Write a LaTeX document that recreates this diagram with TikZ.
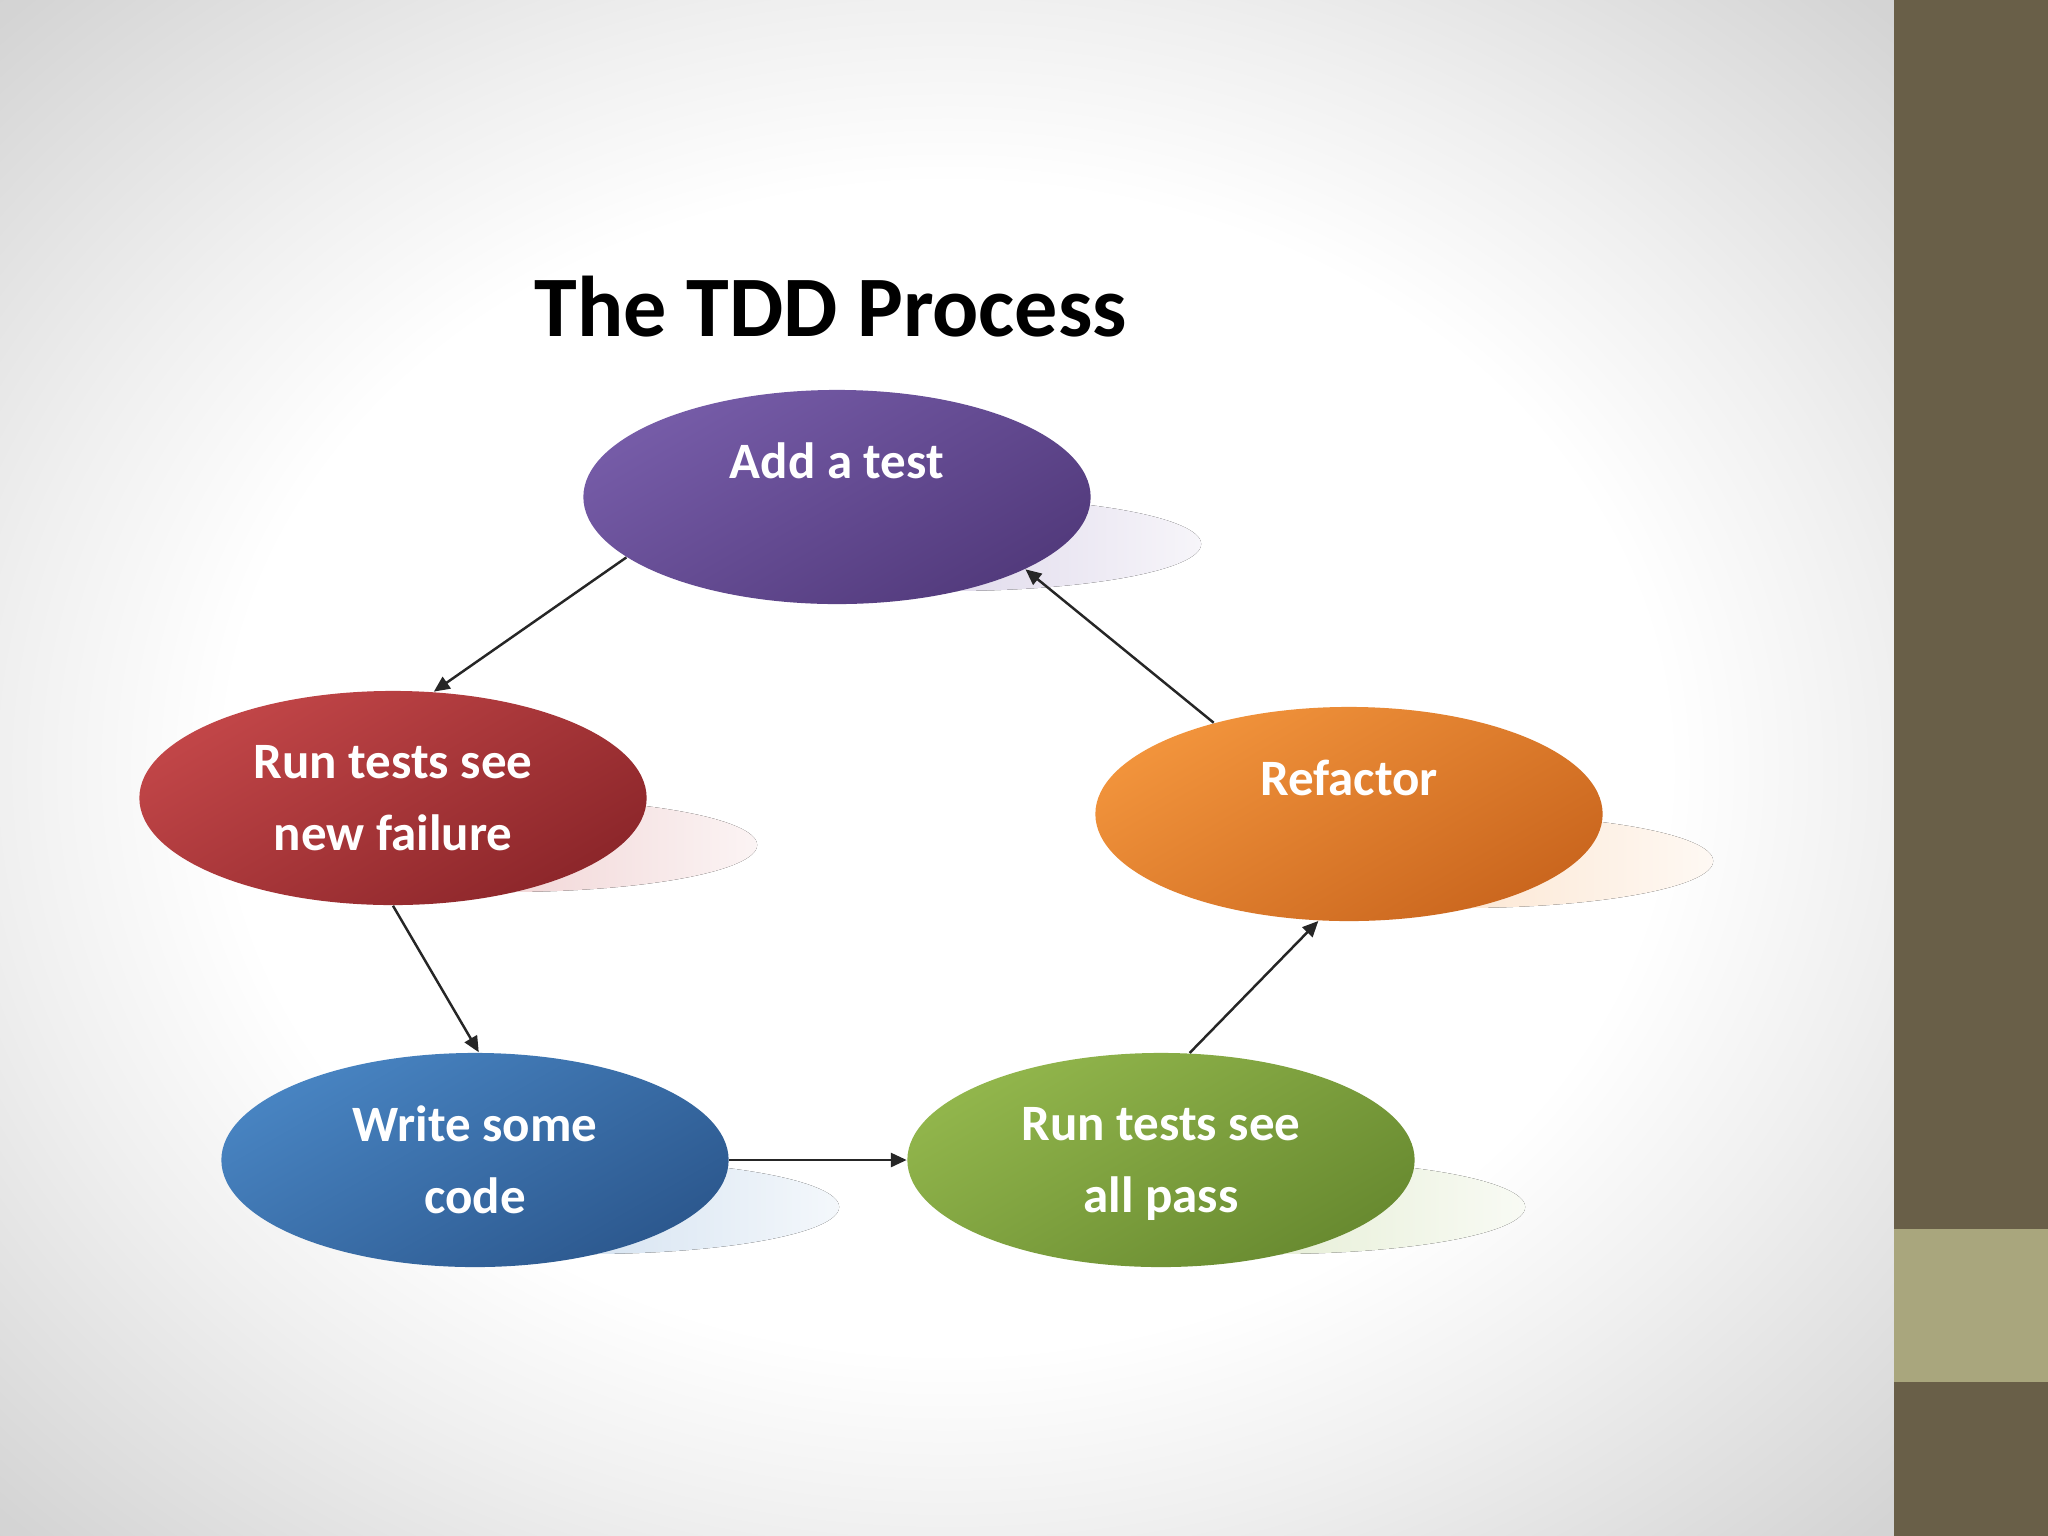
\documentclass[tikz,border=0pt]{standalone}
\usepackage{fontspec}
\setmainfont{Carlito}
\usepackage{tikz}
\usetikzlibrary{arrows.meta,positioning,calc,shapes.geometric}
\pgfdeclarelayer{background}
\pgfsetlayers{background,main}
\definecolor{addtop}{RGB}{118,92,168}
\definecolor{addbot}{RGB}{82,58,124}
\definecolor{failtop}{RGB}{194,70,72}
\definecolor{failbot}{RGB}{140,38,42}
\definecolor{codetop}{RGB}{72,132,194}
\definecolor{codebot}{RGB}{44,88,142}
\definecolor{passtop}{RGB}{146,182,76}
\definecolor{passbot}{RGB}{104,138,48}
\definecolor{reftop}{RGB}{242,148,60}
\definecolor{refbot}{RGB}{202,102,30}
\definecolor{bandbrown}{RGB}{105,95,72}
\definecolor{bandkhaki}{RGB}{169,166,125}
\pgfdeclareradialshading{vignette}{\pgfpoint{0bp}{0bp}}{color(0bp)=(white); color(19bp)=(white); color(25bp)=(black!6); color(35bp)=(black!17); color(50bp)=(black!20)}
\tikzset{
  stage/.style={ellipse, inner sep=0pt, minimum width=5.07cm, minimum height=2.14cm, align=center, text=white, font=\fontsize{14.5}{20.5}\selectfont\bfseries},
  title/.style={font=\fontsize{24.5}{29}\selectfont\bfseries, anchor=base},
  line/.style={-{Triangle[length=4.5pt,width=4pt]}, line width=0.7pt, draw=black!85}
}
\begin{document}
\begin{tikzpicture}[x=0.01cm, y=-0.01cm]
  \useasboundingbox (0,0) rectangle (2048,1536);
  \node[title] (head) at (831,336) {The TDD Process};
  \node[stage, top color=addtop, bottom color=addbot, shading angle=30] (add) at (837,497) {Add a test\\\mbox{}};
  \node[stage, top color=failtop, bottom color=failbot, shading angle=30] (fail) at (393,798) {Run tests see\\new failure};
  \node[stage, top color=reftop, bottom color=refbot, shading angle=30] (refactor) at (1349,814) {Refactor\\\mbox{}};
  \node[stage, top color=codetop, bottom color=codebot, shading angle=30] (code) at (475,1160) {Write some\\code};
  \node[stage, top color=passtop, bottom color=passbot, shading angle=30] (pass) at (1161,1160) {Run tests see\\\raisebox{0pt}[\height][0pt]{all pass}};
  \draw[line] (add.196) -- (fail.69);
  \draw[line] (fail.270) -- (code.88);
  \draw[line] (code.0) -- (pass.180);
  \draw[line] (pass.75) -- (refactor.254);
  \draw[line] (refactor.146) -- (add.339);
  \begin{pgfonlayer}{background}
    \shade[shading=vignette] (0,0) rectangle (1894,1536);
    \fill[bandbrown] (1894,0) rectangle (2048,1536);
    \fill[bandkhaki] (1894,1229) rectangle (2048,1382);
    % soft shadows
    \foreach \n/\c in {add/addtop, fail/failtop, refactor/reftop, code/codetop, pass/passtop}
      \fill[left color=\c!38, right color=\c!6] ($(\n.center)+(111,47)$) ellipse [x radius=2.53cm, y radius=0.47cm];
  \end{pgfonlayer}
\end{tikzpicture}
\end{document}
